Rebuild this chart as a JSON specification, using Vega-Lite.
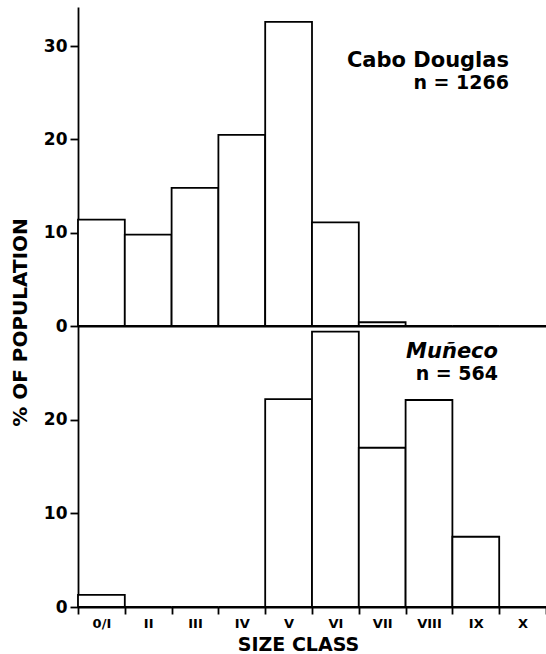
{
  "$schema": "https://vega.github.io/schema/vega-lite/v6.json",
  "padding": {"left": 10, "top": 7, "right": 0, "bottom": 1},
  "bounds": "flush",
  "background": "white",
  "config": {
    "view": {"stroke": null},
    "font": "DejaVu Sans",
    "axis": {
      "domainColor": "black", "domainWidth": 1.8, "tickColor": "black", "tickWidth": 1.8,
      "labelColor": "black", "labelFont": "DejaVu Sans", "labelFontWeight": "bold",
      "titleColor": "black", "titleFont": "DejaVu Sans", "titleFontWeight": "bold", "grid": false
    },
    "title": {"color": "black", "subtitleColor": "black", "font": "DejaVu Sans", "subtitleFont": "DejaVu Sans"}
  },
  "datasets": {
    "pop": [
      {"site": "Cabo Douglas", "cls": "0/I", "pct": 11.4},
      {"site": "Cabo Douglas", "cls": "II", "pct": 9.8},
      {"site": "Cabo Douglas", "cls": "III", "pct": 14.8},
      {"site": "Cabo Douglas", "cls": "IV", "pct": 20.5},
      {"site": "Cabo Douglas", "cls": "V", "pct": 32.6},
      {"site": "Cabo Douglas", "cls": "VI", "pct": 11.1},
      {"site": "Cabo Douglas", "cls": "VII", "pct": 0.4},
      {"site": "Cabo Douglas", "cls": "VIII", "pct": 0},
      {"site": "Cabo Douglas", "cls": "IX", "pct": 0},
      {"site": "Cabo Douglas", "cls": "X", "pct": 0},
      {"site": "Muñeco", "cls": "0/I", "pct": 1.3},
      {"site": "Muñeco", "cls": "II", "pct": 0},
      {"site": "Muñeco", "cls": "III", "pct": 0},
      {"site": "Muñeco", "cls": "IV", "pct": 0},
      {"site": "Muñeco", "cls": "V", "pct": 22.2},
      {"site": "Muñeco", "cls": "VI", "pct": 29.4},
      {"site": "Muñeco", "cls": "VII", "pct": 17.0},
      {"site": "Muñeco", "cls": "VIII", "pct": 22.1},
      {"site": "Muñeco", "cls": "IX", "pct": 7.5},
      {"site": "Muñeco", "cls": "X", "pct": 0}
    ]
  },
  "spacing": 0,
  "vconcat": [
    {
      "width": 468,
      "height": 319,
      "title": {
        "text": "Cabo Douglas",
        "subtitle": "n = 1266",
        "anchor": "end",
        "frame": "group",
        "orient": "top",
        "offset": 0,
        "dx": -37,
        "dy": 86,
        "fontSize": 21,
        "fontWeight": "bold",
        "subtitleFontSize": 19,
        "subtitleFontWeight": "bold",
        "subtitlePadding": 3
      },
      "data": {"name": "pop"},
      "transform": [{"filter": "datum.site === 'Cabo Douglas'"}],
      "mark": {"type": "bar", "fill": "white", "stroke": "black", "strokeWidth": 1.8},
      "encoding": {
        "x": {
          "field": "cls", "type": "ordinal",
          "sort": ["0/I", "II", "III", "IV", "V", "VI", "VII", "VIII", "IX", "X"],
          "scale": {"paddingInner": 0, "paddingOuter": 0},
          "axis": {"labels": false, "ticks": false, "title": null}
        },
        "y": {
          "field": "pct", "type": "quantitative",
          "scale": {"domain": [0, 34.2], "nice": false, "zero": true},
          "axis": {
            "values": [0, 10, 20, 30], "tickSize": 8, "labelFontSize": 17, "labelPadding": 3,
            "title": "% OF POPULATION", "titleFontSize": 20, "titleX": -58, "titleY": 315,
            "titleAngle": 270, "titleAlign": "center", "titleBaseline": "middle"
          }
        }
      }
    },
    {
      "width": 468,
      "height": 281,
      "title": {
        "text": "Muñeco",
        "subtitle": "n = 564",
        "anchor": "end",
        "frame": "group",
        "orient": "top",
        "offset": 0,
        "dx": -48,
        "dy": 58,
        "fontSize": 21,
        "fontWeight": "bold",
        "fontStyle": "italic",
        "subtitleFontSize": 19,
        "subtitleFontWeight": "bold",
        "subtitlePadding": 3
      },
      "data": {"name": "pop"},
      "transform": [{"filter": "datum.site === 'Muñeco'"}],
      "mark": {"type": "bar", "fill": "white", "stroke": "black", "strokeWidth": 1.8},
      "encoding": {
        "x": {
          "field": "cls", "type": "ordinal",
          "sort": ["0/I", "II", "III", "IV", "V", "VI", "VII", "VIII", "IX", "X"],
          "scale": {"paddingInner": 0, "paddingOuter": 0},
          "axis": {
            "labelAngle": 0, "tickBand": "extent", "tickSize": 7, "labelFontSize": 13,
            "labelPadding": 3, "title": "SIZE CLASS", "titleFontSize": 19,
            "titleX": 220, "titleY": 37, "titleAlign": "center", "titleBaseline": "middle"
          }
        },
        "y": {
          "field": "pct", "type": "quantitative",
          "scale": {"domain": [0, 30], "nice": false, "zero": true},
          "axis": {"values": [0, 10, 20], "tickSize": 8, "labelFontSize": 17, "labelPadding": 3, "title": null}
        }
      }
    }
  ]
}
